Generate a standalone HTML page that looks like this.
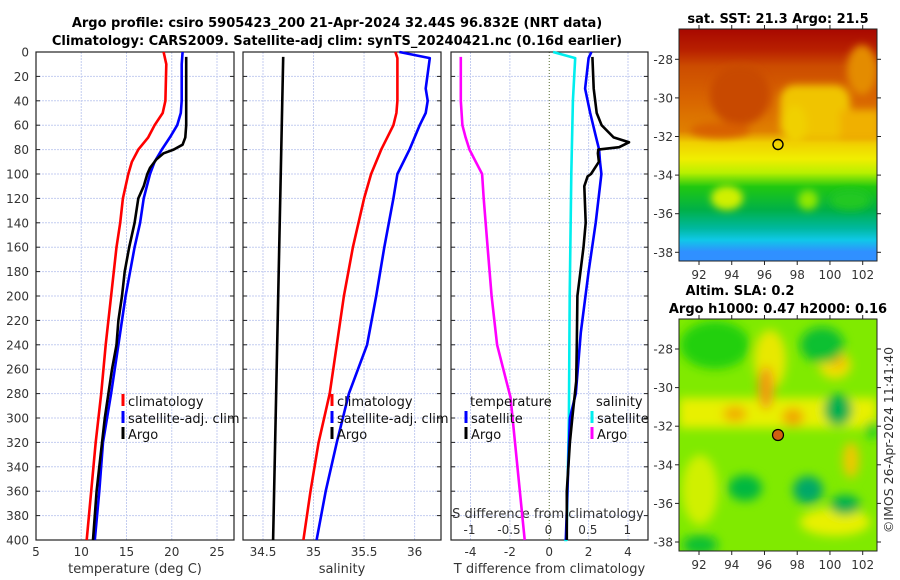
<!DOCTYPE html>
<html><head><meta charset="utf-8"><style>
body{margin:0;background:#fff;}
svg{display:block;font-family:"DejaVu Sans","Liberation Sans",sans-serif;}
.t{font-size:12px;fill:#333;}
.tt{font-size:13px;font-weight:bold;fill:#000;}
.lg{font-size:13px;fill:#111;}
</style></head><body>
<svg id="chart" width="900" height="580" viewBox="0 0 900 580" xmlns="http://www.w3.org/2000/svg">
<defs>
<filter id="bl" x="-50%" y="-50%" width="200%" height="200%"><feGaussianBlur stdDeviation="4"/></filter>
<filter id="bl2" x="-50%" y="-50%" width="200%" height="200%"><feGaussianBlur stdDeviation="5"/></filter>
<linearGradient id="sstg" x1="0" y1="0" x2="0" y2="1">
<stop offset="0" stop-color="#a80800"/><stop offset="0.09" stop-color="#b82000"/>
<stop offset="0.16" stop-color="#cc4c00"/><stop offset="0.3" stop-color="#d86400"/>
<stop offset="0.44" stop-color="#e08000"/><stop offset="0.49" stop-color="#f0d000"/>
<stop offset="0.56" stop-color="#f0ee00"/><stop offset="0.62" stop-color="#b8f000"/>
<stop offset="0.68" stop-color="#20c810"/><stop offset="0.78" stop-color="#00b048"/>
<stop offset="0.86" stop-color="#00b8a0"/><stop offset="0.91" stop-color="#10c8e8"/>
<stop offset="0.96" stop-color="#3090ff"/><stop offset="1" stop-color="#3090ff"/>
</linearGradient>
<clipPath id="c1"><rect x="679" y="29" width="198" height="232"/></clipPath>
<clipPath id="c2"><rect x="679" y="319" width="198" height="232"/></clipPath>
</defs>
<text class="tt" x="337" y="27" text-anchor="middle">Argo profile: csiro 5905423_200 21-Apr-2024 32.44S 96.832E (NRT data)</text>
<text class="tt" x="337" y="45" text-anchor="middle">Climatology: CARS2009. Satellite-adj clim: synTS_20240421.nc (0.16d earlier)</text>
<g id="panels"></g>
<g id="maps">
<text class="tt" x="778" y="23" text-anchor="middle">sat. SST: 21.3 Argo: 21.5</text>
<g clip-path="url(#c1)">
<rect x="679" y="29" width="198" height="232" fill="url(#sstg)"/>
<g filter="url(#bl)">
<rect x="780" y="85" width="70" height="55" rx="15" fill="#f0c400"/>
<rect x="840" y="110" width="40" height="30" fill="#f0b000"/>
<ellipse cx="795" cy="125" rx="12" ry="20" fill="#f0d000"/>
<ellipse cx="862" cy="70" rx="15" ry="25" fill="#e48c00"/>
<ellipse cx="740" cy="95" rx="30" ry="30" fill="#c84800"/>
<ellipse cx="720" cy="130" rx="30" ry="8" fill="#d86000"/>
<ellipse cx="727" cy="198" rx="16" ry="12" fill="#d0f000"/>
<ellipse cx="808" cy="200" rx="10" ry="10" fill="#90e800"/>
<ellipse cx="850" cy="200" rx="20" ry="10" fill="#20c820"/>
</g>
<circle cx="778" cy="144.5" r="5" fill="none" stroke="#000" stroke-width="1.4"/>
</g>
<rect x="679" y="29" width="198" height="232" fill="none" stroke="#222"/>
<text class="tt" x="740" y="295" text-anchor="middle">Altim. SLA: 0.2</text>
<text class="tt" x="778" y="313" text-anchor="middle">Argo h1000: 0.47 h2000: 0.16</text>
<g clip-path="url(#c2)">
<rect x="679" y="319" width="198" height="232" fill="#80ea00"/>
<g filter="url(#bl2)">
<rect x="679" y="398" width="198" height="30" fill="#e8f000"/>
<ellipse cx="770" cy="360" rx="16" ry="30" fill="#e8e800"/>
<ellipse cx="766" cy="388" rx="8" ry="22" fill="#f09c10"/>
<ellipse cx="735" cy="414" rx="12" ry="8" fill="#f0b000"/>
<ellipse cx="793" cy="417" rx="11" ry="9" fill="#f0a800"/>
<ellipse cx="835" cy="365" rx="16" ry="14" fill="#f0e000"/>
<ellipse cx="838" cy="361" rx="7" ry="7" fill="#f0b800"/>
<ellipse cx="851" cy="460" rx="8" ry="18" fill="#f0c800"/>
<ellipse cx="700" cy="490" rx="18" ry="35" fill="#d0f000"/>
<ellipse cx="835" cy="522" rx="35" ry="14" fill="#e8f000"/>
<ellipse cx="715" cy="345" rx="35" ry="24" fill="#20d010"/>
<ellipse cx="822" cy="345" rx="22" ry="18" fill="#10c030"/>
<ellipse cx="838" cy="410" rx="14" ry="16" fill="#00b050"/>
<ellipse cx="745" cy="488" rx="17" ry="13" fill="#00b840"/>
<ellipse cx="808" cy="490" rx="15" ry="14" fill="#00a868"/>
<ellipse cx="845" cy="505" rx="15" ry="10" fill="#00b050"/>
<ellipse cx="700" cy="545" rx="18" ry="10" fill="#10c030"/>
<ellipse cx="872" cy="430" rx="7" ry="9" fill="#20d020"/>
</g>
<circle cx="778" cy="435" r="5.5" fill="#d06010" stroke="#000" stroke-width="1.2"/>
</g>
<rect x="679" y="319" width="198" height="232" fill="none" stroke="#222"/>
<text class="t" transform="translate(893,440) rotate(-90)" text-anchor="middle" style="font-size:12.5px">©IMOS 26-Apr-2024 11:41:40</text>
</g>
</svg>
<script>
// ---- data ----
const depthT = [0,10,40,50,60,70,80,90,100,120,140,160,200,240,280,320,360,400];
const tempClim = [19.1,19.4,19.3,19.0,18.1,17.4,16.3,15.6,15.2,14.6,14.3,13.9,13.3,12.7,12.2,11.6,11.1,10.6];
const tempSat = [21.2,21.1,21.1,21.0,20.6,19.8,18.9,18.1,17.6,16.9,16.5,15.9,14.9,14.1,13.3,12.4,12.0,11.5];
const depthArgo = [4,30,60,70,76,80,83,88,95,100,110,120,140,160,180,200,220,240,260,300,340,360,400];
const tempArgo = [21.6,21.6,21.6,21.5,21.2,20.2,19.1,18.3,17.6,17.3,16.9,16.3,15.9,15.3,14.8,14.5,14.1,13.9,13.4,12.6,12.0,11.7,11.3];
const depthS = [0,5,30,40,50,60,80,100,120,160,200,240,280,320,360,400];
const salClim = [35.81,35.83,35.83,35.83,35.82,35.79,35.67,35.57,35.50,35.39,35.30,35.23,35.16,35.05,34.97,34.90];
const salSat = [35.85,36.15,36.11,36.13,36.11,36.05,35.95,35.83,35.79,35.70,35.62,35.53,35.35,35.23,35.12,35.03];
const depthSA = [4,400];
const salArgo = [34.70,34.60];
const depthD = [0,5,30,50,70,80,90,100,140,180,230,280,300,400];
const tDiffSat = [2.14,2.0,1.82,2.08,2.38,2.53,2.58,2.65,2.36,2.0,1.6,1.35,1.05,0.84];
const tDiffArgo = [2.19,2.26,2.41,2.66,3.27,4.05,3.55,2.49,2.47,2.52,2.12,1.95,1.78,1.85,1.74,1.43,1.40,1.37,1.17,1.05,0.89,0.89];
const depthDA = [4,30,50,60,70,74,78,80,83,90,100,102,110,140,160,200,240,270,300,320,360,400];
const depthSD = [4,40,60,70,80,90,100,120,160,200,240,283,400];
const sDiffArgo = [-1.11,-1.11,-1.09,-1.05,-1.0,-0.92,-0.84,-0.82,-0.77,-0.72,-0.65,-0.48,-0.30];
const sDiffSat = [0.06,0.34,0.31,0.29,0.27,0.26,0.23,0.20];
const depthSS = [0,5,40,100,200,300,400,400];
const yTicks = [0,20,40,60,80,100,120,140,160,180,200,220,240,260,280,300,320,340,360,380,400];
const tTicks = [5,10,15,20,25];
const sTicks = [34.5,35,35.5,36];
const tdTicks = [-4,-2,0,2,4];
const sdTicks = [-1,-0.5,0,0.5,1];
const lonTicks = [92,94,96,98,100,102];
const latTicks = [-28,-30,-32,-34,-36,-38];

const NS='http://www.w3.org/2000/svg';
const svg=document.getElementById('chart');
const P=document.getElementById('panels');
function mk(tag,attrs,parent){const e=document.createElementNS(NS,tag);for(const k in attrs)e.setAttribute(k,attrs[k]);(parent||P).appendChild(e);return e;}
const Y0=52,Y1=540;
const yS=d=>Y0+(d/400)*(Y1-Y0);
function lin(d0,d1,r0,r1){return v=>r0+(v-d0)/(d1-d0)*(r1-r0);}
const panels=[
 {x0:36,x1:234,sx:lin(5,25,36,217),ticks:tTicks,name:'temperature-panel',label:'temperature (deg C)'},
 {x0:243,x1:441,sx:lin(34.5,36,263,414.6),ticks:sTicks,name:'salinity-panel',label:'salinity'},
 {x0:451,x1:648,sx:lin(-4,4,470.5,628),ticks:tdTicks,name:'difference-panel',label:'T difference from climatology'}
];
const sdx=lin(-1,1,469.5,627.3);
panels.forEach((p,i)=>{
 const g=mk('g',{});
 
 
 yTicks.forEach(d=>{
  if(d>0&&d<400){const l=mk('line',{x1:p.x0,x2:p.x1,y1:yS(d),y2:yS(d),stroke:'#c4cdf0','stroke-width':1,'stroke-dasharray':'2,1'},g);
  }
  mk('line',{x1:p.x0,x2:p.x0+4,y1:yS(d),y2:yS(d),stroke:'#222'},g);
  mk('line',{x1:p.x1-4,x2:p.x1,y1:yS(d),y2:yS(d),stroke:'#222'},g);
  if(i===0){const t=mk('text',{x:29,y:yS(d)+4.5,'text-anchor':'end',class:'t'},g);t.textContent=d;
   }
 });
 p.ticks.forEach(v=>{
  const x=p.sx(v);
  if(i===2&&v===0){mk('line',{x1:x,x2:x,y1:Y0,y2:Y1,stroke:'#556b2f','stroke-width':1,'stroke-dasharray':'1,2'},g);}
  else if(x>p.x0+2){mk('line',{x1:x,x2:x,y1:Y0,y2:Y1,stroke:'#c4cdf0','stroke-width':1,'stroke-dasharray':'2,1'},g);}
  const t=mk('text',{x:x,y:556,'text-anchor':'middle',class:'t'},g);t.textContent=v;
  
 });
 mk('rect',{x:p.x0,y:Y0,width:p.x1-p.x0,height:Y1-Y0,fill:'none',stroke:'#222','stroke-width':1.2},g);
 const xl=mk('text',{x:(p.x0+p.x1)/2,y:573,'text-anchor':'middle',class:'t',style:'font-size:13px'},g);xl.textContent=p.label;
 
});
{const t=mk('text',{x:548,y:518,'text-anchor':'middle',class:'t',style:'font-size:13px'});t.textContent='S difference from climatology';

sdTicks.forEach(v=>{const e=mk('text',{x:sdx(v),y:534,'text-anchor':'middle',class:'t'});e.textContent=v;
});}

function line(xs,ds,sx,color,name){
 const pts=xs.map((v,k)=>sx(v).toFixed(1)+','+yS(ds[k]).toFixed(1)).join(' ');
 const l=mk('polyline',{points:pts,fill:'none',stroke:color,'stroke-width':2.6,'stroke-linejoin':'round'});
 
 
}
const [p1,p2,p3]=panels;
line(tempClim,depthT,p1.sx,'#ff0000','temp-climatology-line');
line(tempSat,depthT,p1.sx,'#0000ff','temp-satellite-line');
line(tempArgo,depthArgo,p1.sx,'#000000','temp-argo-line');
line(salArgo,depthSA,p2.sx,'#000000','sal-argo-line');
line(salClim,depthS,p2.sx,'#ff0000','sal-climatology-line');
line(salSat,depthS,p2.sx,'#0000ff','sal-satellite-line');
line(sDiffArgo,depthSD,sdx,'#ff00ff','s-diff-argo-line');
line(sDiffSat,depthSS.slice(0,sDiffSat.length),sdx,'#00eeee','s-diff-satellite-line');
line(tDiffSat,depthD,p3.sx,'#0000ff','t-diff-satellite-line');
line(tDiffArgo,depthDA,p3.sx,'#000000','t-diff-argo-line');

function legend(x,y,color,text,name){
 const g=mk('g',{});
 
 
 mk('rect',{x:x-1.5,y:y-7,width:3,height:12,fill:color},g);
 const t=mk('text',{x:x+5,y:y+5,class:'lg'},g);t.textContent=text;
}
legend(123,401,'#ff0000','climatology','legend-temp-climatology');
legend(123,418,'#0000ff','satellite-adj. clim','legend-temp-satellite');
legend(123,434,'#000000','Argo','legend-temp-argo');
legend(332,401,'#ff0000','climatology','legend-sal-climatology');
legend(332,418,'#0000ff','satellite-adj. clim','legend-sal-satellite');
legend(332,434,'#000000','Argo','legend-sal-argo');
{const t=mk('text',{x:470,y:406,class:'lg'});t.textContent='temperature';
const s=mk('text',{x:596,y:406,class:'lg'});s.textContent='salinity';}
legend(466,418,'#0000ff','satellite','legend-tdiff-satellite');
legend(466,434,'#000000','Argo','legend-tdiff-argo');
legend(592,418,'#00eeee','satellite','legend-sdiff-satellite');
legend(592,434,'#ff00ff','Argo','legend-sdiff-argo');

const M=document.getElementById('maps');
const lonX=lin(92,102,699,862.7);
[[29,261,lin(-28,-38,59.3,252.3)],[319,551,lin(-28,-38,349,542)]].forEach(([top,bot,latY],mi)=>{
 lonTicks.forEach(v=>{const x=lonX(v);
  mk('line',{x1:x,x2:x,y1:bot,y2:bot+4,stroke:'#222'},M);
  mk('line',{x1:x,x2:x,y1:top-4,y2:top,stroke:'#222'},M);
  const t=mk('text',{x:x,y:bot+18,'text-anchor':'middle',class:'t'},M);t.textContent=v;
  });
 latTicks.forEach(v=>{const y=latY(v);
  mk('line',{x1:675,x2:679,y1:y,y2:y,stroke:'#222'},M);
  mk('line',{x1:877,x2:881,y1:y,y2:y,stroke:'#222'},M);
  const t=mk('text',{x:673,y:y+4.5,'text-anchor':'end',class:'t'},M);t.textContent=v;
  });
});
</script>
</body></html>
